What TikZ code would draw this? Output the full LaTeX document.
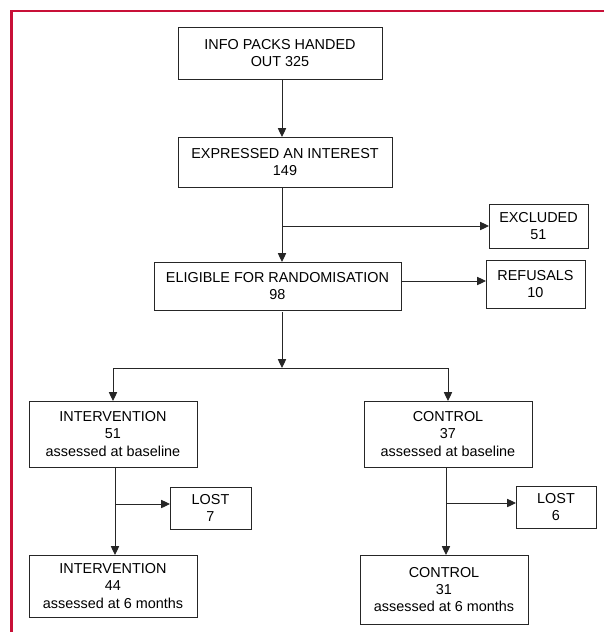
\documentclass[tikz,border=0pt]{standalone}
\usepackage{fontspec}
\setmainfont{Liberation Sans}
\usepackage{tikz}
\usetikzlibrary{arrows.meta,calc}
\definecolor{frame}{RGB}{200,16,56}

\begin{document}
\begin{tikzpicture}[x=0.03cm, y=-0.03cm, thick,
		every node/.style={font=\fontsize{12.3}{14.9}\selectfont},
		box/.style={draw=black!85, line width=0.8pt, align=center, inner sep=0pt, outer sep=0pt},
		arr/.style={draw=black!85, line width=0.8pt, -{Triangle[length=7.5pt,width=7pt]}},
		ln/.style={draw=black!85, line width=0.8pt}]
\useasboundingbox (0,0) rectangle (604,632);
% frame
\draw[frame, line width=2pt] (604,11) -- (11.5,11) -- (11.5,632);
% recruitment
\node[box, minimum width=6.12cm, minimum height=1.56cm] (info) at (280,53) {INFO PACKS HANDED\\OUT 325};
\node[box, minimum width=6.42cm, minimum height=1.5cm] (interest) at (285,162) {EXPRESSED AN INTEREST\\149};
\node[box, minimum width=2.97cm, minimum height=1.32cm] (excluded) at (538.5,226) {EXCLUDED\\51};
\node[box, minimum width=7.41cm, minimum height=1.44cm] (eligible) at (277.5,286) {ELIGIBLE FOR RANDOMISATION\\98};
\node[box, minimum width=2.97cm, minimum height=1.44cm] (refusals) at (535.5,284) {REFUSALS\\10};
% baseline
\node[box, minimum width=5.04cm, minimum height=1.98cm] (intbase) at (113,434) {INTERVENTION\\51\\assessed at baseline};
\node[box, minimum width=5.04cm, minimum height=1.98cm] (ctrlbase) at (448,434) {CONTROL\\37\\assessed at baseline};
% losses
\node[box, minimum width=2.43cm, minimum height=1.26cm] (lostint) at (210.5,508) {LOST\\7};
\node[box, minimum width=2.4cm, minimum height=1.26cm] (lostctrl) at (556,507) {LOST\\6};
% follow up
\node[box, minimum width=5.04cm, minimum height=1.86cm] (intsix) at (113,586) {INTERVENTION\\44\\assessed at 6 months};
\node[box, minimum width=5.04cm, minimum height=2.07cm] (ctrlsix) at (444,589.5) {CONTROL\\31\\assessed at 6 months};
% connectors
\coordinate (trunk) at (282,0);
\coordinate (split) at (282,368);
\coordinate (ibranch) at (115,504);
\coordinate (cbranch) at (446,503);
\draw[arr] ([yshift=-1pt]info.south -| trunk) -- (interest.north -| trunk);
\draw[arr] ([yshift=-1pt]interest.south -| trunk) -- (eligible.north -| trunk);
\draw[arr] (excluded.west -| trunk) -- (excluded.west);
\draw[arr] (eligible.east |- 0,281) -- (refusals.west |- 0,281);
\draw[arr] ([yshift=-2pt]eligible.south -| trunk) -- (split);
\draw[ln] (split -| intbase.north) -- (split -| ctrlbase.north);
\draw[arr] (split -| intbase.north) -- (intbase.north);
\draw[arr] (split -| ctrlbase.north) -- (ctrlbase.north);
\draw[arr] ([yshift=-1pt]intbase.south -| ibranch) -- (intsix.north -| ibranch);
\draw[arr] (ibranch) -- (ibranch -| lostint.west);
\draw[arr] ([yshift=-1pt]ctrlbase.south -| cbranch) -- (ctrlsix.north -| cbranch);
\draw[arr] (cbranch) -- (cbranch -| lostctrl.west);
\end{tikzpicture}
\end{document}
